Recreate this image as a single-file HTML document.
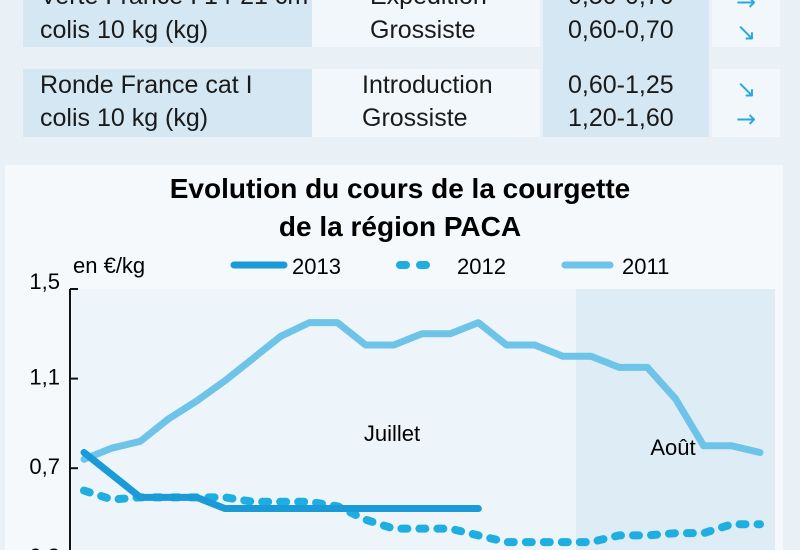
<!DOCTYPE html>
<html><head><meta charset="utf-8"><style>
body{margin:0;width:800px;height:550px;overflow:hidden;background:#e9f1f7;font-family:"Liberation Sans Narrow","Liberation Sans",sans-serif;color:#1a1a1a}
svg{position:absolute;left:0;top:0}
</style></head><body>
<svg width="800" height="550">
<g>
<rect x="23" y="0" width="289" height="47" fill="#d4e7f3"/>
<rect x="312" y="0" width="228" height="47" fill="#f2f7fb"/>
<rect x="23" y="69" width="289" height="68" fill="#d4e7f3"/>
<rect x="312" y="69" width="228" height="68" fill="#f2f7fb"/>
<rect x="543" y="0" width="166" height="137" fill="#d4e7f3"/>
<rect x="712" y="0" width="68" height="47" fill="#f2f7fb"/>
<rect x="712" y="69" width="68" height="68" fill="#f2f7fb"/>
<g font-size="25" fill="#1a1a1a">
<text x="40" y="4">Verte France I 14-21 cm</text>
<text x="40" y="38">colis 10 kg (kg)</text>
<text x="370" y="4">Expédition</text>
<text x="370" y="38">Grossiste</text>
<text x="568" y="4">0,50-0,70</text>
<text x="568" y="38">0,60-0,70</text>
<text x="40" y="93">Ronde France cat I</text>
<text x="40" y="126">colis 10 kg (kg)</text>
<text x="362" y="93">Introduction</text>
<text x="362" y="126">Grossiste</text>
<text x="568" y="93">0,60-1,25</text>
<text x="568" y="126">1,20-1,60</text>
</g>
<g fill="#2aa8dc" font-size="24" font-family="DejaVu Sans,sans-serif">
<text x="736" y="10">→</text>
<text x="736" y="40">↘</text>
<text x="736" y="97">↘</text>
<text x="736" y="127">→</text>
</g>
</g>
<rect x="5" y="165" width="778" height="400" fill="#f6f9fc"/>
<text x="400" y="198" text-anchor="middle" font-size="28" font-weight="bold">Evolution du cours de la courgette</text>
<text x="400" y="236" text-anchor="middle" font-size="28" font-weight="bold">de la région PACA</text>
<text x="73" y="273" font-size="22">en €/kg</text>
<g>
<line x1="234" y1="265" x2="284" y2="265" stroke="#1a9ad6" stroke-width="7" stroke-linecap="round"/>
<text x="292" y="274" font-size="22">2013</text>
<line x1="400" y1="265" x2="436" y2="265" stroke="#1eaee0" stroke-width="8" stroke-linecap="round" stroke-dasharray="6 14"/>
<text x="457" y="274" font-size="22">2012</text>
<line x1="565" y1="265" x2="610" y2="265" stroke="#6ec3e8" stroke-width="7" stroke-linecap="round"/>
<text x="622" y="274" font-size="22">2011</text>
</g>
<rect x="72" y="289" width="504" height="270" fill="#eef5fa"/>
<rect x="576" y="289" width="199" height="270" fill="#deecf6"/>
<text x="392" y="441" text-anchor="middle" font-size="22">Juillet</text>
<text x="673" y="455" text-anchor="middle" font-size="22">Août</text>
<g id="axis"></g>
<g id="series"></g>
</svg>
<script>
const yTicks=[1.5,1.1,0.7,0.3];
const yTickLabels=["1,5","1,1","0,7","0,3"];
const values2011=[0.74,0.79,0.82,0.92,1.0,1.09,1.19,1.29,1.35,1.35,1.25,1.25,1.30,1.30,1.35,1.25,1.25,1.20,1.20,1.15,1.15,1.01,0.80,0.80,0.77];
const values2012=[0.60,0.56,0.57,0.57,0.57,0.57,0.55,0.55,0.55,0.53,0.47,0.43,0.43,0.43,0.40,0.37,0.37,0.37,0.37,0.40,0.40,0.41,0.41,0.45,0.45];
const values2013=[0.77,0.67,0.57,0.57,0.57,0.52,0.52,0.52,0.52,0.52,0.52,0.52,0.52,0.52,0.52];
const NS="http://www.w3.org/2000/svg";
const N=25;
function xs(i){return 84+i*(760-84)/(N-1);}
function ys(v){return 289+(1.5-v)*224;}
const ax=document.getElementById('axis');
const yl=document.createElementNS(NS,'line');
yl.setAttribute('x1',70);yl.setAttribute('x2',70);yl.setAttribute('y1',289);yl.setAttribute('y2',560);
yl.setAttribute('stroke','#111');yl.setAttribute('stroke-width','2');


ax.appendChild(yl);
yTicks.forEach((t,k)=>{
 const tk=document.createElementNS(NS,'line');
 tk.setAttribute('x1',70);tk.setAttribute('x2',78);tk.setAttribute('y1',ys(t));tk.setAttribute('y2',ys(t));
 tk.setAttribute('stroke','#111');tk.setAttribute('stroke-width','2');
 
 
 ax.appendChild(tk);
 const tx=document.createElementNS(NS,'text');
 tx.setAttribute('x',60);tx.setAttribute('y',ys(t)+(k===0?0:6));tx.setAttribute('text-anchor','end');tx.setAttribute('font-size','22');
 tx.textContent=yTickLabels[k];
 
 
 ax.appendChild(tx);
});
const sg=document.getElementById('series');
function draw(vals,color,w,dash,name){
 const p=document.createElementNS(NS,'polyline');
 p.setAttribute('points',vals.map((v,i)=>xs(i)+','+ys(v)).join(' '));
 p.setAttribute('fill','none');p.setAttribute('stroke',color);p.setAttribute('stroke-width',w);
 p.setAttribute('stroke-linejoin','round');p.setAttribute('stroke-linecap','round');
 if(dash)p.setAttribute('stroke-dasharray',dash);
 
 
 sg.appendChild(p);
}
draw(values2011,'#6ec3e8',7,null,'line-2011');
draw(values2012,'#1eaee0',8,'6 12','line-2012');
draw(values2013,'#1a9ad6',7,null,'line-2013');
</script>
</body></html>
